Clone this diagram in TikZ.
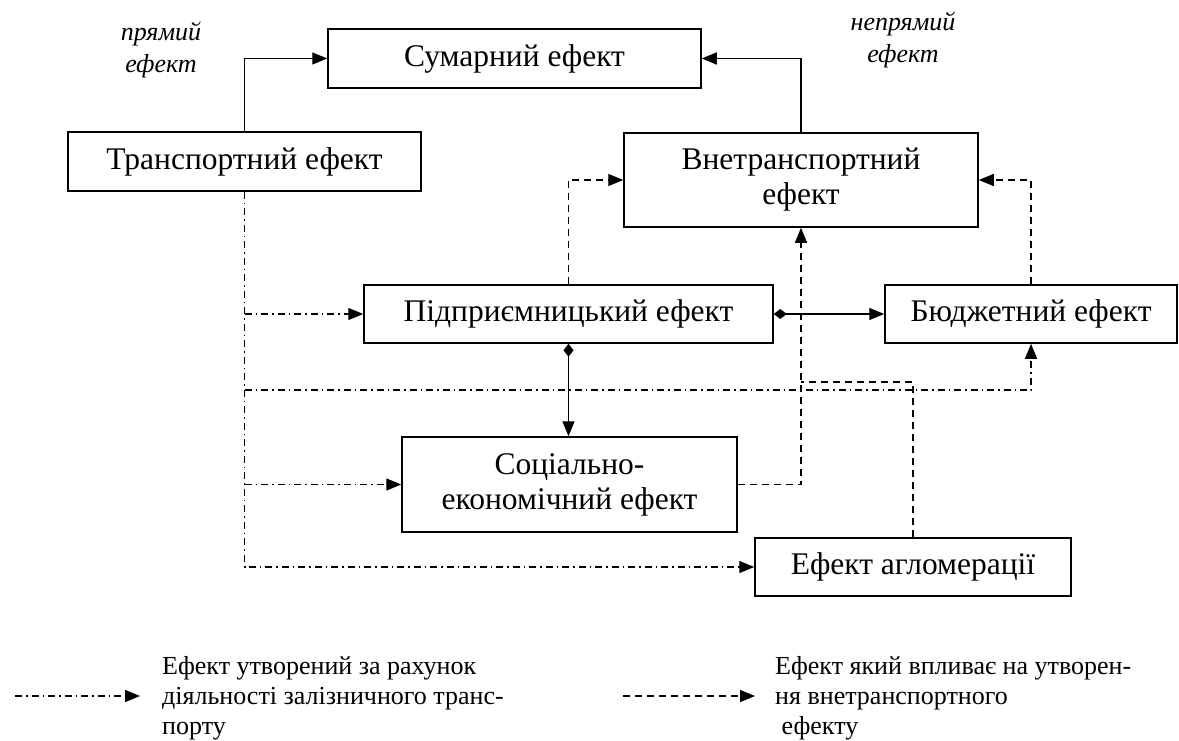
\documentclass[tikz,border=0pt]{standalone}
\usepackage{fontspec}
\setmainfont{Liberation Serif}
\usetikzlibrary{arrows.meta}
\begin{document}
\begin{tikzpicture}[x=1pt,y=-1pt,
  box/.style={draw, line width=1.5pt, inner sep=0pt, align=center,
    font=\fontsize{31.5}{35}\selectfont},
  conn/.style={line width=1.4pt},
  arr/.style={conn, -{Triangle[length=15pt,width=12pt]}},
  darr/.style={conn, {Diamond[length=13pt,width=10pt]}-{Triangle[length=15pt,width=12pt]}},
  dsh/.style={conn, dash pattern=on 7pt off 5pt},
  dd/.style={conn, dash pattern=on 7pt off 4pt on 1.5pt off 4pt},
  lbl/.style={font=\itshape\fontsize{26}{32}\selectfont, align=center},
  leg/.style={font=\fontsize{26}{30}\selectfont, align=left, anchor=west, inner sep=0pt}
]
\useasboundingbox (0,0) rectangle (1179,741);
% boxes
\node[box, minimum width=373pt, minimum height=59pt] (sum) at (514.5,58.5) {Сумарний ефект};
\node[box, minimum width=353pt, minimum height=59pt] (trans) at (244.5,161.5) {Транспортний ефект};
\node[box, minimum width=354pt, minimum height=94pt] (vne) at (801,180) {Внетранспортний\\ефект};
\node[box, minimum width=409pt, minimum height=58pt] (pidp) at (568.5,314) {Підприємницький ефект};
\node[box, minimum width=292pt, minimum height=58pt] (budg) at (1031,314) {Бюджетний ефект};
\node[box, minimum width=335pt, minimum height=95pt] (soc) at (569.5,484.5) {Соціально-\\економічний ефект};
\node[box, minimum width=316pt, minimum height=58pt] (aglo) at (913,567) {Ефект агломерації};
% italic labels
\node[lbl] (pr) at (161,50) {прямий\\ефект};
\node[lbl] (npr) at (903,40) {непрямий\\ефект};
% solid connectors
\draw[arr] (trans.north) |- (sum.west);
\draw[arr] (vne.north) |- (sum.east);
\draw[darr] (pidp.south) -- (pidp.south |- soc.north);
\draw[darr] (pidp.east) -- (budg.west);
% dashed connectors
\draw[dsh, -{Triangle[length=15pt,width=12pt]}] (pidp.north) |- (vne.west);
\draw[dsh, -{Triangle[length=15pt,width=12pt]}] (budg.north) |- (vne.east);
\draw[dsh, -{Triangle[length=15pt,width=12pt]}] (soc.east) -| (vne.south);
\coordinate (j1) at (801,382);
\draw[dsh] (aglo.north) |- (j1);
% dash-dot connectors
\draw[dd, -{Triangle[length=15pt,width=12pt]}] (trans.south) |- (aglo.west);
\draw[dd, -{Triangle[length=15pt,width=12pt]}] (trans.south |- pidp.west) -- (pidp.west);
\draw[dd, -{Triangle[length=15pt,width=12pt]}] (trans.south |- soc.west) -- (soc.west);
\coordinate (j2) at (244.5,390);
\draw[dd, -{Triangle[length=15pt,width=12pt]}] (j2) -| (budg.south);
% legend
\coordinate (la) at (15,696);
\coordinate (lb) at (140,696);
\draw[dd, -{Triangle[length=15pt,width=12pt]}] (la) -- (lb);
\node[leg] (lt1) at (162,698) {Ефект утворений за рахунок\\діяльності залізничного транс-\\порту};
\coordinate (lc) at (623,696);
\coordinate (ld) at (755,696);
\draw[dsh, -{Triangle[length=15pt,width=12pt]}] (lc) -- (ld);
\node[leg] (lt2) at (775,698) {Ефект який впливає на утворен-\\ня внетранспортного\\\hspace{0.25em}ефекту};
\end{tikzpicture}
\end{document}
